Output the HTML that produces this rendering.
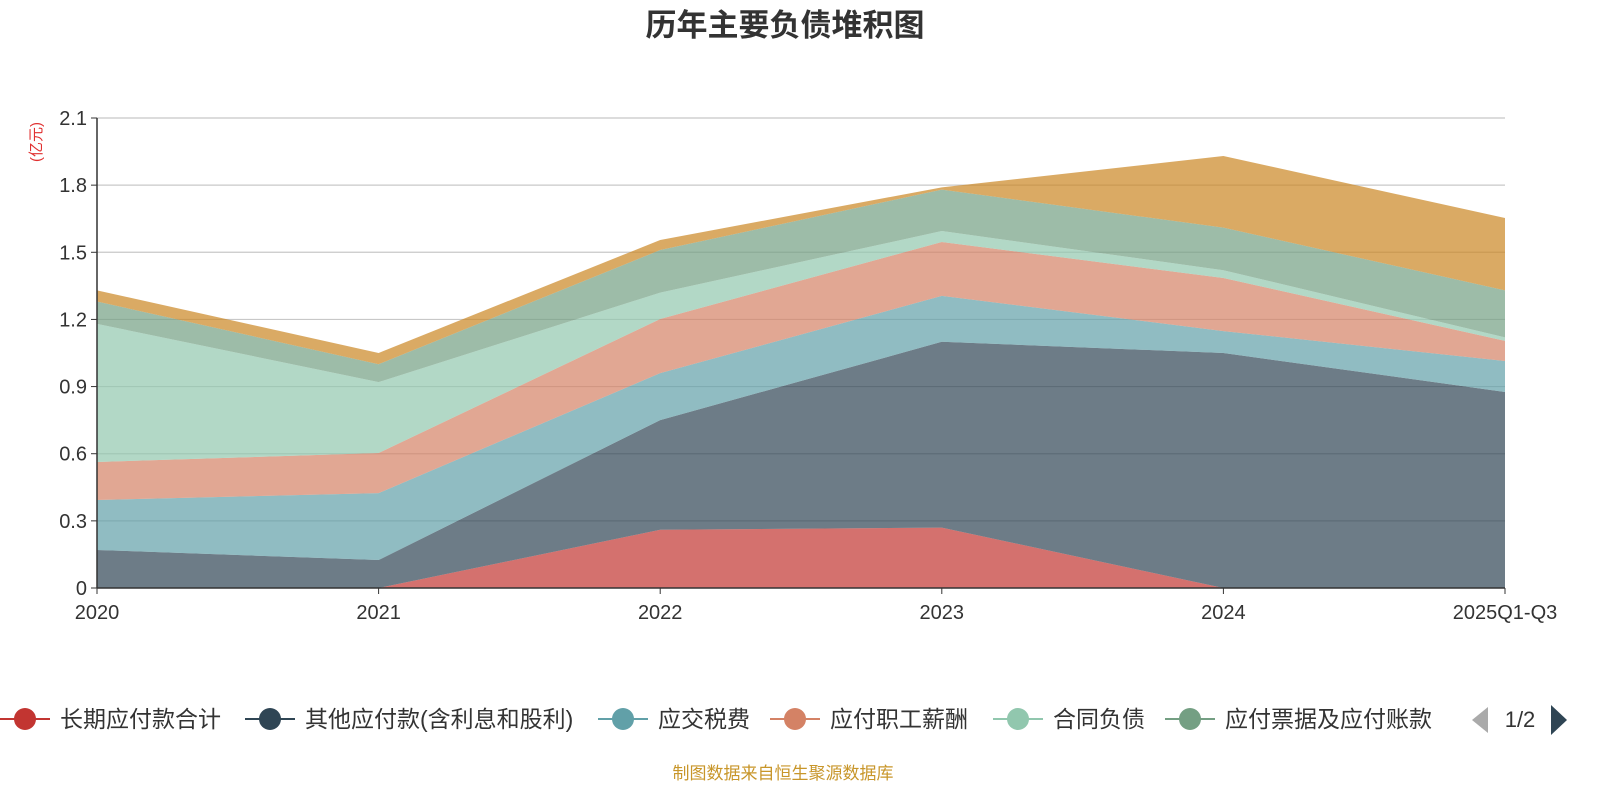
<!DOCTYPE html>
<html><head><meta charset="utf-8"><style>
body{margin:0;width:1600px;height:800px;background:#fff;overflow:hidden;font-family:"Liberation Sans","Noto Sans CJK SC",sans-serif;}
</style></head><body>
<svg id="chart" width="1600" height="800" xmlns="http://www.w3.org/2000/svg" font-family="Liberation Sans, Noto Sans CJK SC, sans-serif">
<text x="785" y="36" text-anchor="middle" font-size="31" font-weight="bold" fill="#333">历年主要负债堆积图</text>
<text transform="translate(41,142) rotate(-90)" text-anchor="middle" font-size="15" fill="#e03030">(亿元)</text>
<g id="grid"></g><g id="areas"></g><g id="axes"></g><g id="legend"></g>
<text x="783" y="779" text-anchor="middle" font-size="17" fill="#c8962a">制图数据来自恒生聚源数据库</text>
</svg>
<script>
const categories=["2020","2021","2022","2023","2024","2025Q1-Q3"];
const yTicks=[0,0.3,0.6,0.9,1.2,1.5,1.8,2.1];
const seriesNames=["长期应付款合计","其他应付款(含利息和股利)","应交税费","应付职工薪酬","合同负债","应付票据及应付账款","其他"];
const s1=[0,0,0.26,0.27,0,0];
const s2=[0.17,0.125,0.49,0.83,1.05,0.876];
const s3=[0.223,0.299,0.21,0.205,0.098,0.138];
const s4=[0.17,0.179,0.242,0.241,0.237,0.09];
const s5=[0.617,0.317,0.118,0.049,0.035,0.016];
const s6=[0.1,0.08,0.19,0.185,0.19,0.21];
const s7=[0.05,0.05,0.045,0.01,0.32,0.323];
const series=[s1,s2,s3,s4,s5,s6,s7];
const colors=["#c23531","#2f4554","#61a0a8","#d48265","#91c7ae","#749f83","#ca8622"];
const NS="http://www.w3.org/2000/svg";
const x0=97,x1=1505,yb=588,yt=118,ymax=2.1;
const X=i=>x0+i*(x1-x0)/(categories.length-1);
const Y=v=>yb-v/ymax*(yb-yt);
function mk(t,a,p){const e=document.createElementNS(NS,t);for(const k in a)e.setAttribute(k,a[k]);p.appendChild(e);return e;}
const grid=document.getElementById('grid'),axes=document.getElementById('axes'),areas=document.getElementById('areas');
yTicks.forEach(v=>{
 if(v>0){const l=mk('line',{x1:x0,x2:x1,y1:Y(v),y2:Y(v),stroke:'#c8c8c8','stroke-width':1.2},grid);
 
 }
 const t=mk('text',{x:x0-10,y:Y(v)+7,'text-anchor':'end','font-size':20,fill:'#333'},axes);t.textContent=v===0?'0':v.toFixed(1);
 
 
 mk('line',{x1:x0-6,x2:x0,y1:Y(v),y2:Y(v),stroke:'#333'},axes);
});
let cum=categories.map(()=>0);
series.forEach((s,k)=>{
 const lo=cum.slice();const hi=cum.map((c,i)=>c+s[i]);cum=hi;
 let d='M'+hi.map((v,i)=>X(i)+','+Y(v)).join('L');
 for(let i=lo.length-1;i>=0;i--)d+='L'+X(i)+','+Y(lo[i]);
 const p=mk('path',{d:d+'Z',fill:colors[k],'fill-opacity':0.7,stroke:'none'},areas);
 
 
});
mk('line',{x1:x0,x2:x0,y1:yt,y2:yb,stroke:'#333','stroke-width':1.5},axes);
mk('line',{x1:x0,x2:x1,y1:yb,y2:yb,stroke:'#333','stroke-width':1.5},axes);
categories.forEach((c,i)=>{
 mk('line',{x1:X(i),x2:X(i),y1:yb,y2:yb+6,stroke:'#333'},axes);
 const t=mk('text',{x:X(i),y:yb+31,'text-anchor':'middle','font-size':20,fill:'#333'},axes);t.textContent=c;
 
 
});
const lg=document.getElementById('legend');
const lx=[0,245,598,770,993,1165];
for(let k=0;k<6;k++){
 const g=mk('g',{},lg);
 
 
 mk('line',{x1:lx[k],x2:lx[k]+50,y1:719,y2:719,stroke:colors[k],'stroke-width':2},g);
 mk('circle',{cx:lx[k]+25,cy:719,r:11,fill:colors[k]},g);
 const t=mk('text',{x:lx[k]+60,y:727,'font-size':23,fill:'#333'},g);t.textContent=seriesNames[k];
}
const pg=mk('g',{},lg);


mk('path',{d:'M1488,707L1472,720L1488,733Z',fill:'#aaa'},pg);
const pt=mk('text',{x:1520,y:727,'text-anchor':'middle','font-size':22,fill:'#333'},pg);pt.textContent='1/2';
mk('path',{d:'M1551,705L1567,720L1551,735Z',fill:'#2f4554'},pg);
</script>
</body></html>
